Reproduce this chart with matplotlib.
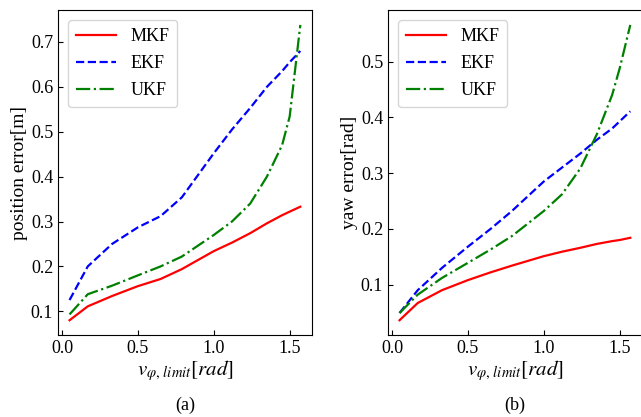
import numpy as np
import matplotlib.pyplot as plt

plt.rcParams['font.family'] = ['Liberation Serif', 'DejaVu Serif']
plt.rcParams['mathtext.fontset'] = 'stix'
plt.rcParams['xtick.direction'] = 'in'
plt.rcParams['ytick.direction'] = 'in'

# velocity limit values (rad)
v_limit = [0.05, 0.17, 0.33, 0.5, 0.65, 0.79, 1.0, 1.12, 1.24, 1.35, 1.45, 1.5, 1.57]

# (a) position error [m]
pos_mkf = [0.080, 0.111, 0.134, 0.156, 0.172, 0.194, 0.234, 0.253, 0.274, 0.296, 0.314, 0.322, 0.333]
pos_ekf = [0.125, 0.200, 0.250, 0.287, 0.312, 0.354, 0.452, 0.505, 0.553, 0.600, 0.635, 0.655, 0.680]
pos_ukf = [0.093, 0.138, 0.157, 0.180, 0.200, 0.222, 0.270, 0.300, 0.340, 0.400, 0.470, 0.534, 0.738]

# (b) yaw error [rad]
yaw_mkf = [0.036, 0.067, 0.090, 0.108, 0.122, 0.134, 0.151, 0.159, 0.166, 0.173, 0.178, 0.180, 0.184]
yaw_ekf = [0.049, 0.090, 0.130, 0.168, 0.200, 0.232, 0.285, 0.310, 0.335, 0.360, 0.380, 0.393, 0.411]
yaw_ukf = [0.049, 0.082, 0.112, 0.139, 0.163, 0.187, 0.232, 0.262, 0.308, 0.370, 0.440, 0.488, 0.566]

fig = plt.figure(figsize=(6.41, 4.17), dpi=100)
ax1 = fig.add_axes([0.0905, 0.1966, 0.396, 0.779])
ax2 = fig.add_axes([0.6053, 0.1966, 0.396, 0.779])

fs = 13
for ax, mkf, ekf, ukf, ylab, tag in [
        (ax1, pos_mkf, pos_ekf, pos_ukf, 'position error[m]', '(a)'),
        (ax2, yaw_mkf, yaw_ekf, yaw_ukf, 'yaw error[rad]', '(b)')]:
    ax.plot(v_limit, mkf, color='red', linestyle='-', linewidth=1.6, label='MKF')
    ax.plot(v_limit, ekf, color='blue', linestyle='--', linewidth=1.6, label='EKF')
    ax.plot(v_limit, ukf, color='green', linestyle='-.', linewidth=1.6, label='UKF')
    ax.set_xticks([0.0, 0.5, 1.0, 1.5])
    ax.tick_params(labelsize=fs)
    ax.set_ylabel(ylab, fontsize=fs + 1, labelpad=2)
    ax.set_xlabel(r'$v_{\varphi,\,limit}[rad]$', fontsize=fs + 2, labelpad=1)
    ax.legend(loc='upper left', fontsize=fs, handlelength=2.2, borderpad=0.45,
              labelspacing=0.55, handletextpad=0.8, borderaxespad=0.55)
    ax.text(0.5, -0.215, tag, transform=ax.transAxes, ha='center', va='center', fontsize=fs)

ax1.set_yticks([0.1, 0.2, 0.3, 0.4, 0.5, 0.6, 0.7])
ax2.set_yticks([0.1, 0.2, 0.3, 0.4, 0.5])

plt.savefig('out.png', dpi=100)
